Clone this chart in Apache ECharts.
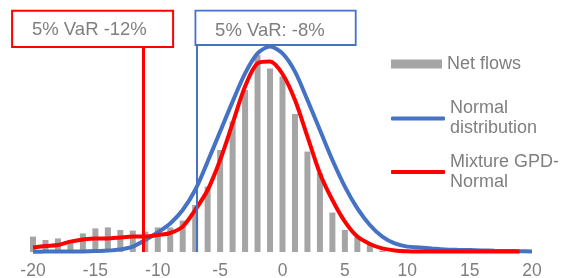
<!DOCTYPE html>
<html>
<head>
<meta charset="utf-8">
<script src="https://cdn.jsdelivr.net/npm/echarts@6/dist/echarts.min.js"></script>
<style>
html,body{margin:0;padding:0;background:#fff;}
#chart{width:562px;height:278px;}
</style>
</head>
<body>
<div id="chart"></div>
<script>
// x positions (percent return buckets)
const xValues = [-20,-19,-18,-17,-16,-15,-14,-13,-12,-11,-10,-9,-8,-7,-6,-5,-4,-3,-2,-1,0,1,2,3,4,5,6,7,8,9,10,11,12,13,14,15,16,17,18,19,20];
// Net flows histogram (frequency, %)
const netFlows = [0.77,0.60,0.68,0.55,0.93,1.18,1.23,1.10,1.07,1.02,1.23,1.23,1.57,2.35,3.27,5.10,6.52,8.10,9.85,9.18,8.77,6.90,5.02,3.95,1.97,1.10,0.77,0.40,0.07,0.03,0,0,0,0,0,0,0,0,0,0,0];
// Normal distribution density
const normalDist = [0.015,0.02,0.02,0.02,0.03,0.05,0.07,0.13,0.27,0.60,0.98,1.43,2.10,3.10,4.52,6.02,7.52,8.93,9.93,10.27,9.93,9.02,7.60,6.10,4.60,3.27,2.18,1.35,0.77,0.43,0.27,0.23,0.18,0.13,0.11,0.10,0.08,0.06,0.05,0.04,0.03];
// Mixture GPD-Normal density (x = -20 .. 19)
const mixture = [0.23,0.30,0.35,0.52,0.63,0.68,0.68,0.73,0.77,0.77,0.85,0.95,1.27,2.10,3.10,4.60,6.43,8.27,9.43,9.52,8.90,7.60,5.77,3.93,2.60,1.52,0.77,0.40,0.18,0.08,0.04,0.03,0.03,0.02,0.02,0.02,0.02,0.02,0.02,0.02];
// VaR levels (position on x axis) and labels
const varMixtureX = -11.15;
const varNormalX = -6.9;
const varMixtureLabel = '5% VaR -12%';
const varNormalLabel = '5% VaR: -8%';
const seriesNames = ['Net flows', 'Normal distribution', 'Mixture GPD-Normal'];

const FONT = "'Liberation Sans', Arial, sans-serif";
const GREY = '#7f7f7f';
const BLUE = '#4472C4';
const RED = '#FF0000';
const BAR = '#A5A5A5';

const chart = echarts.init(document.getElementById('chart'), null, {renderer: 'canvas'});

const pair = (xs, ys) => ys.map((v, i) => [xs[i], v]);

const option = {
  animation: false,
  backgroundColor: '#fff',
  textStyle: {fontFamily: FONT},
  grid: {left: 33, right: 30, top: 11, bottom: 26, outerBoundsMode: 'none', containLabel: false},
  xAxis: {
    type: 'value', min: -20, max: 20, interval: 5,
    axisLine: {show: false}, axisTick: {show: false}, splitLine: {show: false},
    axisLabel: {color: GREY, fontSize: 17.5, fontFamily: FONT, margin: 10}
  },
  yAxis: {type: 'value', min: 0, max: 12.05, show: false, splitLine: {show: false}},
  legend: [
    {data: [{name: seriesNames[0], icon: 'rect'}], left: 391, top: 54, orient: 'vertical', padding: 0,
     itemWidth: 51, itemHeight: 9, itemGap: 0, selectedMode: false,
     textStyle: {color: GREY, fontSize: 18, lineHeight: 20, fontFamily: FONT}},
    {data: [{name: seriesNames[1], icon: 'roundRect'}], left: 391, top: 88.5, orient: 'vertical', padding: 0,
     itemWidth: 54, itemHeight: 4, itemGap: 0, selectedMode: false,
     formatter: () => 'Normal\ndistribution',
     textStyle: {color: GREY, fontSize: 18, lineHeight: 20, fontFamily: FONT, padding: [20, 0, 0, 0]}},
    {data: [{name: seriesNames[2], icon: 'roundRect'}], left: 391, top: 142, orient: 'vertical', padding: 0,
     itemWidth: 54, itemHeight: 4, itemGap: 0, selectedMode: false,
     formatter: () => 'Mixture GPD-\nNormal',
     textStyle: {color: GREY, fontSize: 18, lineHeight: 20, fontFamily: FONT, padding: [20, 0, 0, 0]}}
  ],
  series: [
    {name: seriesNames[0], type: 'bar', data: pair(xValues, netFlows), barWidth: 6,
     itemStyle: {color: BAR}, silent: true, z: 1},
    {name: seriesNames[1], type: 'line', data: pair(xValues, normalDist), smooth: 0.3,
     showSymbol: false, symbol: 'none', lineStyle: {color: BLUE, width: 4}, itemStyle: {color: BLUE}, z: 2,
     markLine: {silent: true, symbol: 'none', label: {show: false},
       lineStyle: {color: BLUE, width: 2, type: 'solid'}, data: [{xAxis: varNormalX}]}},
    {name: seriesNames[2], type: 'line', data: pair(xValues, mixture), smooth: 0.3,
     showSymbol: false, symbol: 'none', lineStyle: {color: RED, width: 4}, itemStyle: {color: RED}, z: 3,
     markLine: {silent: true, symbol: 'none', label: {show: false},
       lineStyle: {color: RED, width: 3, type: 'solid'}, data: [{xAxis: varMixtureX}]}}
  ]
};
chart.setOption(option);

// Annotation boxes anchored to the VaR lines
const redX = chart.convertToPixel({gridIndex: 0}, [varMixtureX, 0])[0];
const blueX = chart.convertToPixel({gridIndex: 0}, [varNormalX, 0])[0];
chart.setOption({
  graphic: [
    {type: 'rect', z: 100, shape: {x: redX - 131.3, y: 10.7, width: 161, height: 36.3},
     style: {fill: '#fff', stroke: RED, lineWidth: 2}},
    {type: 'text', z: 101, x: redX - 54, y: 30,
     style: {text: varMixtureLabel, fill: GREY, font: '18.5px ' + FONT, align: 'center', verticalAlign: 'middle'}},
    {type: 'rect', z: 100, shape: {x: blueX - 1, y: 10.7, width: 160.3, height: 34.3},
     style: {fill: '#fff', stroke: BLUE, lineWidth: 1.8}},
    {type: 'text', z: 101, x: blueX + 73.5, y: 31,
     style: {text: varNormalLabel, fill: GREY, font: '18.5px ' + FONT, align: 'center', verticalAlign: 'middle'}}
  ]
});
</script>
</body>
</html>
